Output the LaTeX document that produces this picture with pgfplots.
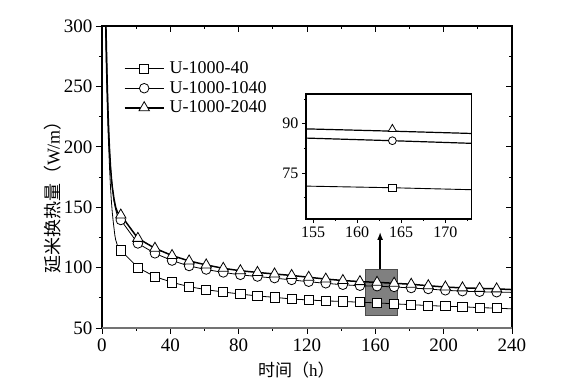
\documentclass[border=0pt]{standalone}
\usepackage{fontspec}
\setmainfont{Liberation Serif}
\newfontfamily\cjk{Noto Sans CJK SC}
\usepackage{pgfplots}
\pgfplotsset{compat=1.18}
\usetikzlibrary{arrows.meta}

\pgfplotsset{
  mystyle/.style={
    scale only axis,
    width=410pt, height=302pt,
    xmin=0, xmax=240, ymin=50, ymax=300,
    xtick={0,40,...,240}, ytick={50,100,...,300},
    minor x tick num=1, minor y tick num=1,
    major tick length=6pt, minor tick length=3pt,
    axis line style={line width=1.1pt},
    every tick/.style={black, line width=0.9pt},
    /pgf/number format/assume math mode=true,
    tick label style={font=\fontsize{19}{21}\selectfont},
  }
}

\begin{document}
\begin{tikzpicture}
\path[use as bounding box] (-102pt,-57pt) rectangle (464pt,328pt);

\begin{axis}[mystyle,
  xtick pos=left, ytick pos=left, tick align=outside,
  xticklabel style={yshift=-1pt},
  xlabel={{\cjk 时间（}h{\cjk ）}},
  ylabel={{\cjk 延米换热量（}W/m{\cjk ）}},
  xlabel style={font=\fontsize{17}{19}\selectfont, at={(axis description cs:0.474,-0.139)}, anchor=center},
  ylabel style={font=\fontsize{18}{20}\selectfont, at={(axis description cs:-0.12,0.447)}, anchor=center},
  legend style={draw=none, fill=none, at={(axis description cs:0.05,0.888)}, anchor=north west,
    font=\fontsize{18}{20}\selectfont, row sep=4pt, inner sep=1pt,
    nodes={inner xsep=5pt, inner ysep=1pt}},
  legend cell align=left,
  legend image code/.code={
    \draw[mark repeat=2,mark phase=2,#1] plot coordinates {(0pt,0pt) (19.5pt,0pt) (39pt,0pt)};
  },
]
% gray zoom box
\fill[black!50, draw=black!70, line width=0.8pt] (axis cs:154.2,60.5) rectangle (axis cs:172.8,98.8);
\draw[line width=1.5pt, -{Latex[length=8pt,width=6pt]}] (axis cs:162.8,98.8) -- (axis cs:162.8,129.5);

% lines
\addplot[black, line width=0.8pt, forget plot] coordinates {
(1.2,400)(1.6,340)(2.0,300)(2.5,265)(3,238)(3.5,215)(4,197)(4.5,180)(5,166)(5.5,155)(6,146)(6.5,139)(7,133)(7.5,127)(8,123)(9,118.5)(10,116)
(11,114.3)(21,100)(31,92.5)(41,87.8)(51,84.2)(61,81.7)(71,79.8)(81,78.1)(91,76.5)(101,75.4)(111,74.0)(121,73.2)(131,72.4)(141,72.0)(151,71.3)(161,70.8)(171,70.0)(181,69.3)(191,68.6)(201,68.0)(211,67.6)(221,66.8)(231,66.5)(240,65.8)};
\addplot[black, line width=0.8pt, forget plot] coordinates {
(1.3,400)(1.8,340)(2.3,300)(3,255)(3.5,230)(4,210)(4.5,195)(5,183)(5.5,174)(6,167)(7,155)(8,148)(9,143)(10,141)
(11,139.4)(21,120)(31,111.8)(41,105.8)(51,101.3)(61,98.4)(71,96)(81,94)(91,92.6)(101,91.3)(111,89.8)(121,88.3)(131,87)(141,85.8)(151,85)(161,84.6)(171,84)(181,83.1)(191,82.3)(201,81.2)(211,80.5)(221,80)(231,79.6)(240,79.5)};
\addplot[black, line width=1.5pt, forget plot] coordinates {
(1.3,400)(1.8,340)(2.3,300)(3,255)(3.5,230)(4,210)(4.5,195)(5,183)(5.5,174)(6,167)(7,157)(8,150)(9,146)(10,144.5)
(11,143.5)(21,124.2)(31,116)(41,110)(51,105.5)(61,102.2)(71,99.4)(81,97.4)(91,96)(101,94.7)(111,93.5)(121,92)(131,90.5)(141,89.3)(151,88.4)(161,87.8)(171,87)(181,86.2)(191,85)(201,83.9)(211,83.2)(221,82.8)(231,82.4)(240,81.8)};

% marks
\addplot[only marks, mark=square*, mark size=4.6pt, mark options={fill=white, draw=black, line width=0.8pt}, forget plot] coordinates {
(11,114.3)(21,100)(31,92.5)(41,87.8)(51,84.2)(61,81.7)(71,79.8)(81,78.1)(91,76.5)(101,75.4)(111,74.0)(121,73.2)(131,72.4)(141,72.0)(151,71.3)(161,70.8)(171,70.0)(181,69.3)(191,68.6)(201,68.0)(211,67.6)(221,66.8)(231,66.5)};
\addplot[only marks, mark=*, mark size=4.8pt, mark options={fill=white, draw=black, line width=0.8pt}, forget plot] coordinates {
(11,139.4)(21,120)(31,111.8)(41,105.8)(51,101.3)(61,98.4)(71,96)(81,94)(91,92.6)(101,91.3)(111,89.8)(121,88.3)(131,87)(141,85.8)(151,85)(161,84.6)(171,84)(181,83.1)(191,82.3)(201,81.2)(211,80.5)(221,80)(231,79.6)};
\addplot[only marks, mark=triangle*, mark size=6pt, mark options={fill=white, draw=black, line width=0.8pt}, forget plot] coordinates {
(11,143.5)(21,124.2)(31,116)(41,110)(51,105.5)(61,102.2)(71,99.4)(81,97.4)(91,96)(101,94.7)(111,93.5)(121,92)(131,90.5)(141,89.3)(151,88.4)(161,87.8)(171,87)(181,86.2)(191,85)(201,83.9)(211,83.2)(221,82.8)(231,82.4)};

\addlegendimage{black, line width=0.8pt, mark=square*, mark size=4.6pt, mark options={fill=white, line width=0.8pt}}
\addlegendentry{U-1000-40}
\addlegendimage{black, line width=0.8pt, mark=*, mark size=4.8pt, mark options={fill=white, line width=0.8pt}}
\addlegendentry{U-1000-1040}
\addlegendimage{black, line width=2pt, mark=triangle*, mark size=6pt, mark options={fill=white, line width=0.8pt}}
\addlegendentry{U-1000-2040}
\end{axis}

% mirrored ticks on top and right
\begin{axis}[mystyle,
  xtick pos=right, ytick pos=right, tick align=inside,
  xticklabels={}, yticklabels={}, clip=false,
]
\draw[black!55, line width=1.3pt] (rel axis cs:0,0) -- (rel axis cs:1,0);
\end{axis}

% inset
\begin{axis}[at={(204pt,109pt)}, anchor=south west,
  scale only axis, width=165.7pt, height=125pt,
  xmin=154.2, xmax=173, ymin=61, ymax=99,
  xtick={155,160,165,170}, ytick={75,90},
  minor xtick={157.5,162.5,167.5,172.5}, minor ytick={67.5,82.5,97.5},
  tick align=outside, xtick pos=left, ytick pos=left,
  major tick length=4pt, minor tick length=2pt,
  axis line style={line width=1.1pt},
  every tick/.style={black, line width=0.8pt},
  axis background/.style={fill=white},
  /pgf/number format/assume math mode=true,
  tick label style={font=\fontsize{16}{18}\selectfont},
]
\addplot[black, line width=0.9pt] coordinates {(154.2,71.0)(164,70.5)(173,69.9)};
\addplot[black, line width=1.2pt] coordinates {(154.2,85.6)(164,84.8)(173,84.0)};
\addplot[black, line width=1.2pt] coordinates {(154.2,88.4)(164,87.7)(173,87.0)};
\addplot[only marks, mark=square*, mark size=3.6pt, mark options={fill=white, draw=black, line width=0.8pt}] coordinates {(164,70.5)};
\addplot[only marks, mark=*, mark size=3.9pt, mark options={fill=white, draw=black, line width=0.8pt}] coordinates {(164,84.8)};
\addplot[only marks, mark=triangle*, mark size=4.8pt, mark options={fill=white, draw=black, line width=0.8pt}] coordinates {(164,88.3)};
\end{axis}
\end{tikzpicture}
\end{document}
